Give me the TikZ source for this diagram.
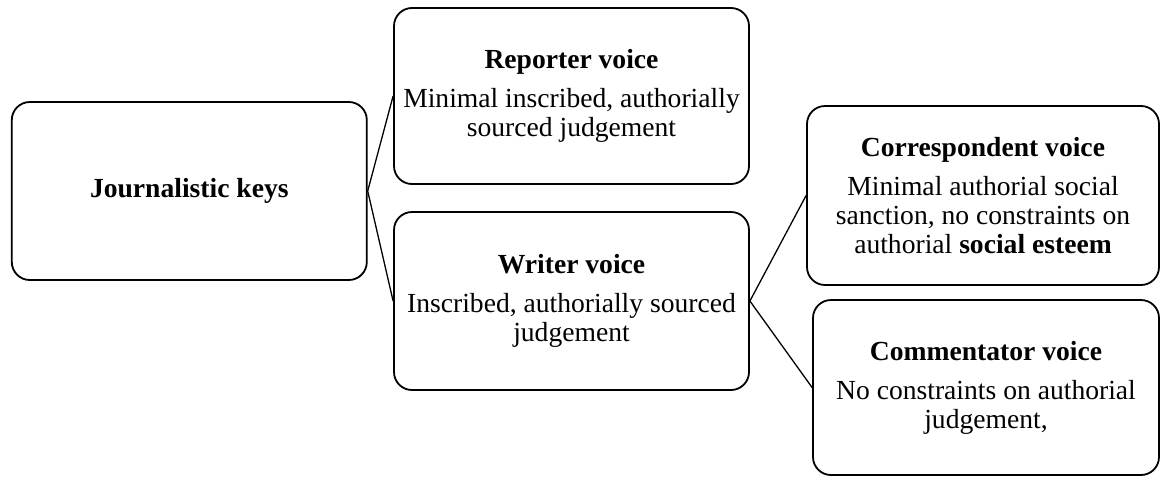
\documentclass[tikz,border=0pt]{standalone}
\usepackage{fontspec}
\setmainfont{Liberation Serif}
\begin{document}
\begin{tikzpicture}[x=1pt,y=-1pt,
  voicebox/.style={draw=black, line width=1.8pt, rounded corners=18pt, align=center,
    inner sep=0pt, font=\fontsize{27.6}{29}\selectfont},
  link/.style={draw=black, line width=1.3pt}]
\useasboundingbox (0,0) rectangle (1161,477);
\node[voicebox, minimum width=355pt, minimum height=178pt] (jk) at (189.3,191) {\textbf{Journalistic keys}};
\node[voicebox, minimum width=355pt, minimum height=176pt] (rv) at (571.5,96)
  {\textbf{Reporter voice}\\[10pt]Minimal inscribed, authorially\\sourced judgement};
\node[voicebox, minimum width=355pt, minimum height=178pt] (wv) at (571.5,301)
  {\textbf{Writer voice}\\[10pt]Inscribed, authorially sourced\\judgement};
\node[voicebox, minimum width=352pt, minimum height=179pt] (cv) at (983,195.5)
  {\textbf{Correspondent voice}\\[10pt]Minimal authorial social\\sanction, no constraints on\\authorial \textbf{social esteem}};
\node[voicebox, minimum width=346pt, minimum height=175pt] (mv) at (986,387.5)
  {\textbf{Commentator voice}\\[10pt]No constraints on authorial\\judgement,};
\draw[link] (jk.east) -- (rv.west);
\draw[link] (jk.east) -- (wv.west);
\draw[link] (wv.east) -- (cv.west);
\draw[link] (wv.east) -- (mv.west);
\end{tikzpicture}
\end{document}
